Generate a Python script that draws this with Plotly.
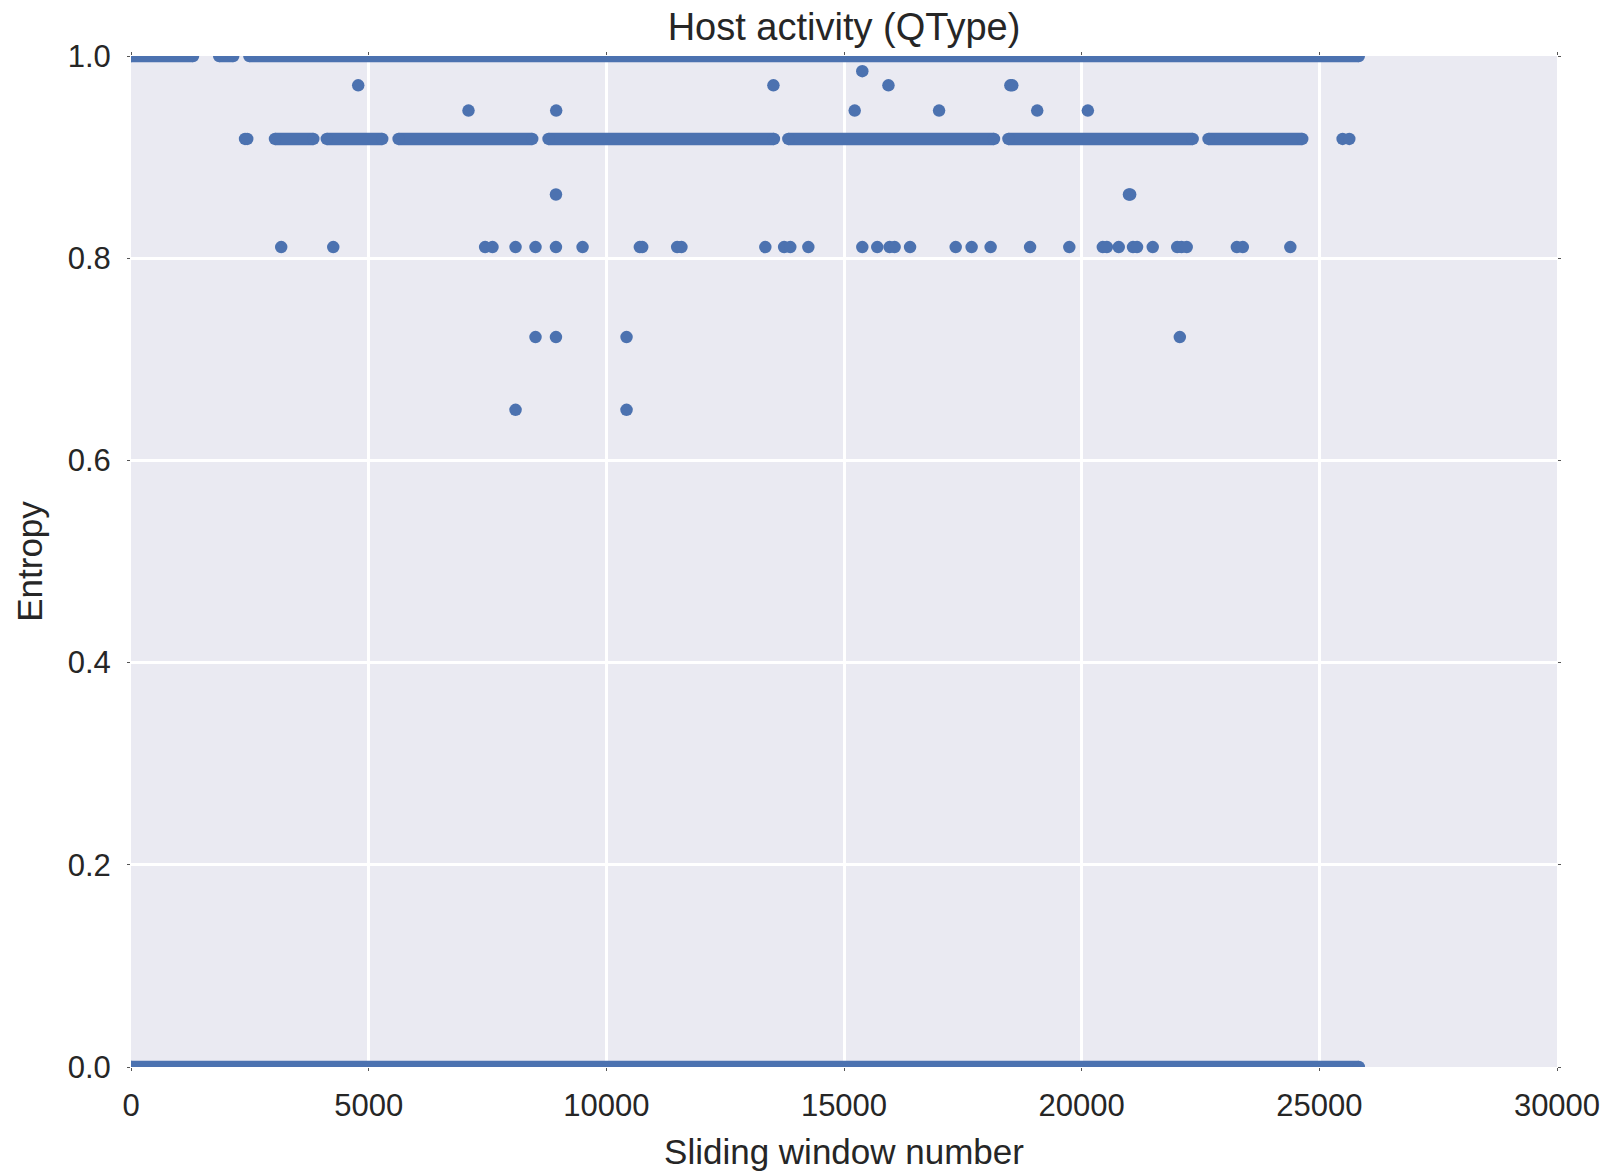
import plotly.graph_objects as go

# Sliding-window entropy of host query types.
# Long stretches where every window has the same entropy are stored as
# (first window, last window) runs; isolated windows are listed per level.

window_range = [0, 30000]
window_ticks = [0, 5000, 10000, 15000, 20000, 25000, 30000]
entropy_range = [0.0, 1.0]
entropy_ticks = [0.0, 0.2, 0.4, 0.6, 0.8, 1.0]

runs_at_1000 = [(0, 1305), (1855, 2150), (2490, 25830)]
runs_at_0000 = [(0, 25830)]
runs_at_0918 = [(3030, 3835), (4120, 5285), (5630, 8440), (8785, 13525),
                (13830, 18155), (18460, 22335), (22670, 24640)]

windows_at_0985 = [15385]
windows_at_0971 = [4780, 13515, 15935, 18500, 18540]
windows_at_0946 = [7100, 8945, 15225, 17000, 19065, 20130]
windows_at_0918 = [2400, 2445, 25490, 25630]
windows_at_0863 = [8940, 20995, 21020]
windows_at_0811 = [3160, 4255, 7450, 7605, 8090, 8510, 8940, 9500, 10705,
                   10755, 11490, 11580, 13345, 13740, 13870, 14250, 15385,
                   15700, 15960, 16065, 16390, 17350, 17685, 18085, 18915,
                   19740, 20445, 20530, 20780, 21080, 21165, 21495, 22010,
                   22100, 22210, 23265, 23390, 24390]
windows_at_0722 = [8510, 8940, 10425, 22065]
windows_at_0650 = [8090, 10425]

BLUE = "#4C72B0"
DOT = 12.5
TEXT = "#262626"
FONT = "Liberation Sans, Arial, sans-serif"


def run_trace(runs, level):
    xs, ys = [], []
    for start, end in runs:
        xs += [start, end, None]
        ys += [level, level, None]
    return go.Scatter(
        x=xs, y=ys, mode="lines+markers",
        line=dict(color=BLUE, width=DOT),
        marker=dict(color=BLUE, size=DOT, line=dict(width=0)),
        hoverinfo="skip", showlegend=False,
    )


levels = [
    (0.985, windows_at_0985), (0.971, windows_at_0971),
    (0.946, windows_at_0946), (0.918, windows_at_0918),
    (0.863, windows_at_0863), (0.811, windows_at_0811),
    (0.722, windows_at_0722), (0.650, windows_at_0650),
]
point_x, point_y = [], []
for level, windows in levels:
    point_x += windows
    point_y += [level] * len(windows)

fig = go.Figure()
fig.add_trace(run_trace(runs_at_1000, 1.0))
fig.add_trace(run_trace(runs_at_0000, 0.0))
fig.add_trace(run_trace(runs_at_0918, 0.918))
fig.add_trace(go.Scatter(
    x=point_x, y=point_y, mode="markers",
    marker=dict(color=BLUE, size=DOT, line=dict(width=0)),
    showlegend=False,
))

axis_common = dict(
    showgrid=True, gridcolor="white", gridwidth=3,
    zeroline=False, showline=False,
    ticks="outside", ticklen=3, tickwidth=1, tickcolor="#555555",
    mirror="ticks",
    tickfont=dict(family=FONT, size=31, color=TEXT),
)

fig.update_layout(
    width=1616, height=1175,
    margin=dict(l=131, r=59, t=56, b=108, autoexpand=False),
    paper_bgcolor="white", plot_bgcolor="#EAEAF2",
    font=dict(family=FONT, color=TEXT, size=31),
    title=dict(
        text="Host activity (QType)",
        font=dict(family=FONT, size=38, color=TEXT),
        xref="paper", x=0.5, xanchor="center",
        yref="container", y=1 - 27 / 1175, yanchor="middle",
    ),
    xaxis=dict(
        range=window_range, tickvals=window_ticks, tickformat="d",
        ticklabelstandoff=8,
        title=dict(text="Sliding window number",
                   font=dict(family=FONT, size=35, color=TEXT), standoff=17),
        **axis_common,
    ),
    yaxis=dict(
        range=entropy_range, tickvals=entropy_ticks, tickformat=".1f",
        ticklabelstandoff=10,
        title=dict(text="Entropy",
                   font=dict(family=FONT, size=35, color=TEXT), standoff=14),
        **axis_common,
    ),
)

fig.write_html("out.html")
